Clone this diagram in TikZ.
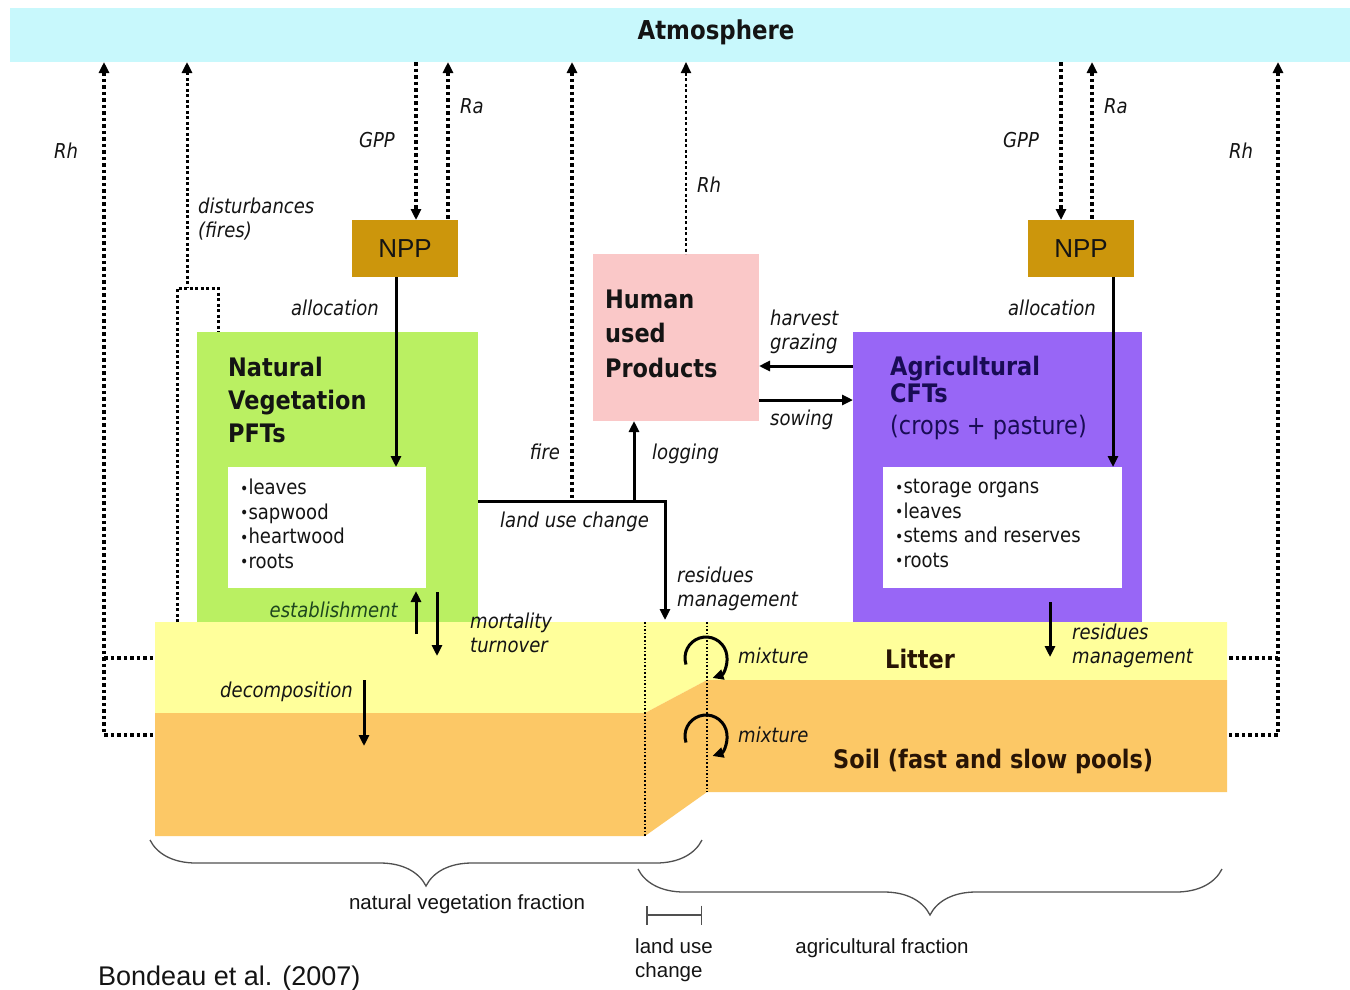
\documentclass[tikz,border=0pt]{standalone}
\usepackage{fontspec}
\setmainfont{DejaVu Sans}[FakeStretch=0.88]
\newfontfamily\arl{Liberation Sans}
\usetikzlibrary{arrows.meta,decorations.pathreplacing}

\definecolor{atmc}{RGB}{200,248,252}
\definecolor{natc}{RGB}{186,240,98}
\definecolor{nppc}{RGB}{204,150,12}
\definecolor{hupc}{RGB}{250,200,200}
\definecolor{agrc}{RGB}{152,102,246}
\definecolor{litc}{RGB}{255,255,155}
\definecolor{soilc}{RGB}{252,200,102}
\definecolor{navy}{RGB}{25,12,85}
\definecolor{dkgreen}{RGB}{30,70,30}
\definecolor{dkbrown}{RGB}{40,20,5}
\definecolor{ink}{RGB}{20,20,20}
\definecolor{bracec}{RGB}{80,80,80}

\newcommand{\fsz}[2]{\fontsize{#1pt}{#2pt}\selectfont}
\newcommand{\bul}{\raisebox{0.5pt}{\fsz{16}{16}\textbullet}}

\tikzset{
  box/.style={inner sep=0pt, outer sep=0pt, anchor=north west, draw=none},
  lbl/.style={inner sep=0pt, text=ink, font=\itshape\fsz{20.5}{24}, anchor=base west, align=left},
  ttl/.style={inner sep=0pt, text=ink, font=\bfseries\fsz{25.5}{33}, anchor=base west, align=left},
  lst/.style={inner sep=0pt, text=ink, font=\fsz{20.5}{24.5}, anchor=base west, align=left},
  btm/.style={inner sep=0pt, text=ink, font=\arl\fsz{20.5}{24}, align=left},
  tdot/.style={line width=3.2pt, dash pattern=on 3.5pt off 3pt},
  mdot/.style={line width=3pt, dash pattern=on 3pt off 2.5pt},
  fdot/.style={line width=1.6pt, dash pattern=on 1.6pt off 2pt},
  flow/.style={line width=3pt},
  arr/.style={-{Triangle[length=11pt,width=10pt]}},
  rarr/.style={{Triangle[length=11pt,width=10pt]}-},
  bracel/.style={bracec, line width=1.3pt, decorate, decoration={brace, mirror, amplitude=46pt}}
}

\begin{document}
\begin{tikzpicture}[x=1pt,y=-1pt]
\fill[white] (0,0) rectangle (1350,989);
\useasboundingbox (0,0) rectangle (1350,989);

% ---------- atmosphere ----------
\node[box, fill=atmc, minimum width=1340pt, minimum height=54pt] (atm) at (10,8) {};
\node[inner sep=0pt, text=ink, font=\bfseries\fsz{26}{30}, anchor=base] (atmT) at (716,39) {Atmosphere};

% ---------- boxes ----------
\node[box, fill=natc, minimum width=281pt, minimum height=290pt] (nat) at (197,332) {};
\node[box, fill=white, minimum width=198pt, minimum height=121pt] (natbox) at (228,467) {};
\node[box, fill=nppc, minimum width=106pt, minimum height=57pt, text=ink, font=\arl\fsz{26}{30}] (npp1) at (352,220) {NPP};
\node[box, fill=hupc, minimum width=166pt, minimum height=167pt] (hup) at (593,254) {};
\node[box, fill=agrc, minimum width=289pt, minimum height=290pt] (agr) at (853,332) {};
\node[box, fill=white, minimum width=239pt, minimum height=121pt] (agrbox) at (883,467) {};
\node[box, fill=nppc, minimum width=106pt, minimum height=57pt, text=ink, font=\arl\fsz{26}{30}] (npp2) at (1028,220) {NPP};

% ---------- litter and soil ----------
\fill[litc] (155,622) -- (1227,622) -- (1227,680) -- (707,680) -- (645,713) -- (155,713) -- cycle;
\fill[soilc] (155,713) -- (645,713) -- (707,680) -- (1227,680) -- (1227,792) -- (707,792) -- (645,836) -- (155,836) -- cycle;
\coordinate (luA) at (645,622);
\coordinate (luB) at (645,836);
\coordinate (luC) at (707,622);
\coordinate (luD) at (707,792);
\draw[fdot] (luA) -- (luB);
\draw[fdot] (luC) -- (luD);

% ---------- texts in boxes (multi-line: last baseline) ----------
\node[ttl] (natT) at (228,442) {Natural\\Vegetation\\PFTs};
\node[lst] (natL) at (240,568) {\bul leaves\\\bul sapwood\\\bul heartwood\\\bul roots};
\node[ttl, font=\bfseries\fsz{25.5}{34.5}] (hupT) at (605,377) {Human\\used\\Products};
\node[ttl, text=navy, font=\bfseries\fsz{25.5}{27}] (agrT) at (890,402) {Agricultural\\CFTs};
\node[inner sep=0pt, text=navy, font=\fsz{25.5}{30}, anchor=base west] (agrS) at (890,434) {(crops + pasture)};
\node[lst] (agrL) at (895,567) {\bul storage organs\\\bul leaves\\\bul stems and reserves\\\bul roots};
\node[ttl, text=dkbrown, font=\bfseries\fsz{25.5}{30}] (litT) at (885,668) {Litter};
\node[ttl, text=dkbrown, font=\bfseries\fsz{25.5}{30}] (soilT) at (833,768) {Soil (fast and slow pools)};

% ---------- left column fluxes ----------
\coordinate (rhLc) at (104,735);
\coordinate (soilLw) at (155,735);
\coordinate (rhLm) at (104,658);
\coordinate (litLw) at (155,658);
\draw[tdot, rarr] (atm.south -| rhLc) -- (rhLc) -- (soilLw);
\draw[tdot] (rhLm) -- (litLw);
\node[lbl, anchor=base] (rhL) at (66,158) {Rh};

\coordinate (distM) at (187,288);
\coordinate (distL) at (177,288);
\coordinate (distR) at (218,288);
\coordinate (distB) at (177,622);
\draw[mdot, rarr] (atm.south -| distM) -- (distM);
\draw[mdot] (distB) -- (distL) -- (distR) -- (nat.north -| distR);
\node[lbl] (distT) at (198,237) {disturbances\\(fires)};

\coordinate (gppLx) at (416,0);
\coordinate (raLx) at (448,0);
\coordinate (alLx) at (396,0);
\draw[tdot, arr] (atm.south -| gppLx) -- (npp1.north -| gppLx);
\draw[tdot, rarr] (atm.south -| raLx) -- (npp1.north -| raLx);
\draw[flow, arr] (npp1.south -| alLx) -- (natbox.north -| alLx);
\node[lbl, anchor=base] (gppL) at (377,147) {GPP};
\node[lbl] (raL) at (460,113) {Ra};
\node[lbl, anchor=base] (alL) at (335,315) {allocation};

\coordinate (estB) at (416,634);
\coordinate (mortB) at (437,656);
\draw[flow, arr, shorten >=3pt] (estB) -- (natbox.south -| estB);
\draw[flow, arr, shorten <=4pt] (natbox.south -| mortB) -- (mortB);
\node[lbl, text=dkgreen, anchor=base east] (estT) at (398,617) {establishment};
\node[lbl] (mortT) at (470,652) {mortality\\turnover};

\coordinate (decT) at (364,680);
\coordinate (decB) at (364,746);
\draw[flow, arr] (decT) -- (decB);
\node[lbl] (decL) at (220,697) {decomposition};

% ---------- middle fluxes ----------
\coordinate (fireX) at (572,0);
\coordinate (lucB) at (665,501);
\coordinate (lucC) at (665,620);
\coordinate (logX) at (634,0);
\draw[tdot, rarr] (atm.south -| fireX) -- (lucB -| fireX);
\draw[flow, arr] (nat.east |- lucB) -- (lucB) -- (lucC);
\draw[flow, arr] (lucB -| logX) -- (hup.south -| logX);
\node[lbl, anchor=base] (fireT) at (545,459) {fire};
\node[lbl] (logT) at (652,459) {logging};
\node[lbl] (lucT) at (500,527) {land use change};
\node[lbl] (resM) at (677,606) {residues\\management};

\coordinate (rhMx) at (686,0);
\draw[mdot, line width=2pt, rarr] (atm.south -| rhMx) -- (hup.north -| rhMx);
\node[lbl] (rhM) at (697,192) {Rh};

\coordinate (harvY) at (0,366);
\coordinate (sowY) at (0,400);
\draw[flow, arr] (agr.west |- harvY) -- (hup.east |- harvY);
\draw[flow, arr] (hup.east |- sowY) -- (agr.west |- sowY);
\node[lbl] (harvT) at (770,349) {harvest\\grazing};
\node[lbl] (sowT) at (770,425) {sowing};

% mixture
\coordinate (mix1) at (706,658);
\coordinate (mix2) at (706,736);
\draw[flow, arr] (mix1) ++(-198:21) arc[start angle=-198, end angle=72, radius=21];
\draw[flow, arr] (mix2) ++(-198:21) arc[start angle=-198, end angle=72, radius=21];
\node[lbl] (mixT1) at (738,663) {mixture};
\node[lbl] (mixT2) at (738,742) {mixture};

% ---------- right column fluxes ----------
\coordinate (gppRx) at (1061,0);
\coordinate (raRx) at (1092,0);
\coordinate (alRx) at (1113,0);
\draw[tdot, arr] (atm.south -| gppRx) -- (npp2.north -| gppRx);
\draw[tdot, rarr] (atm.south -| raRx) -- (npp2.north -| raRx);
\draw[flow, arr] (npp2.south -| alRx) -- (agrbox.north -| alRx);
\node[lbl, anchor=base] (gppR) at (1021,147) {GPP};
\node[lbl] (raR) at (1104,113) {Ra};
\node[lbl, anchor=base] (alR) at (1052,315) {allocation};

\coordinate (rhRc) at (1278,735);
\coordinate (soilRe) at (1227,735);
\coordinate (rhRm) at (1278,658);
\coordinate (litRe) at (1227,658);
\draw[tdot, rarr] (atm.south -| rhRc) -- (rhRc) -- (soilRe);
\draw[tdot] (rhRm) -- (litRe);
\node[lbl, anchor=base] (rhR) at (1241,158) {Rh};

\coordinate (resT) at (1050,602);
\coordinate (resB) at (1050,657);
\draw[flow, arr] (resT) -- (resB);
\node[lbl] (resR) at (1072,663) {residues\\management};

% ---------- braces ----------
\coordinate (bnA) at (150,840);
\coordinate (bnB) at (702,840);
\coordinate (baA) at (638,869);
\coordinate (baB) at (1222,869);
\draw[bracel] (bnA) -- (bnB);
\draw[bracel] (baA) -- (baB);
\node[btm, anchor=base] (natF) at (467,909) {natural vegetation fraction};
\node[btm, anchor=base] (agrF) at (882,953) {agricultural fraction};

\coordinate (lcA) at (646,915);
\coordinate (lcB) at (702,915);
\draw[bracec, line width=1.5pt, {Bar[width=19pt]}-{Bar[width=19pt]}] (lcA) -- (lcB);
\node[btm, anchor=base west] (lcT) at (635,977) {land use\\change};

\node[inner sep=0pt, text=ink, font=\arl\fsz{27}{30}, anchor=base west] (ref) at (98,985) {Bondeau et al. (2007)};
\end{tikzpicture}
\end{document}
